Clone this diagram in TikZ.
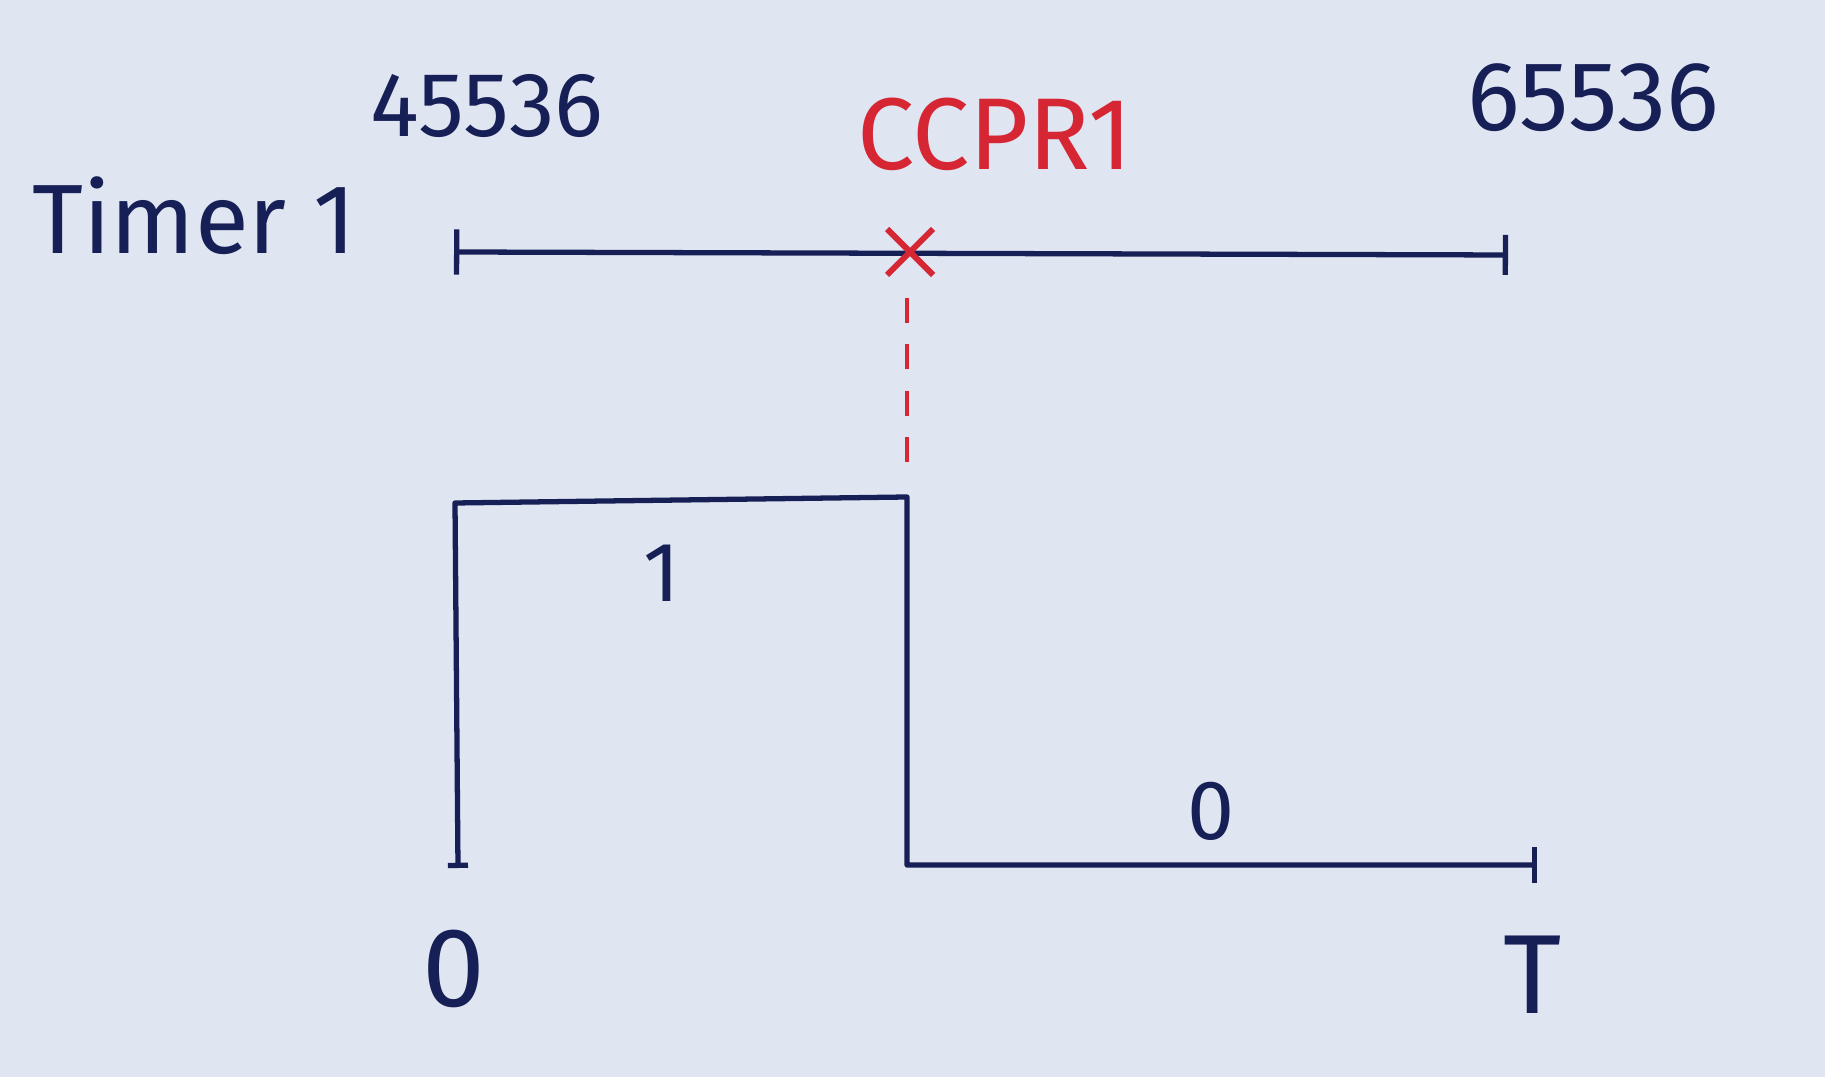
\documentclass[tikz,border=0pt]{standalone}
\usepackage{fontspec}
\setmainfont{Fira Sans}
\definecolor{ink}{RGB}{22, 32, 86}
\definecolor{redink}{RGB}{214, 38, 52}
\definecolor{paper}{RGB}{224, 229, 242}
\usetikzlibrary{arrows.meta, shapes.misc}

\begin{document}
\begin{tikzpicture}[x=0.01cm, y=-0.01cm,
  wire/.style={draw=ink, line width=1.5pt, line cap=round, line join=round},
  lbl/.style={text=ink, inner sep=0pt, font=\fontsize{#1}{#1}\selectfont},
  lbl/.default=28pt,
]
  % Paper
  \fill[paper] (0,0) rectangle (1825,1077);
  \useasboundingbox (0,0) rectangle (1825,1077);
  % Labels
  \node[lbl=28pt] (timer) at (194,216) {Timer 1};
  \node[lbl=26pt] (lo)    at (487,106) {45536};
  \node[lbl=29pt, text=redink] (ccpr) at (995,134) {CCPR1};
  \node[lbl]      (hi)    at (1593,98) {65536};
  \node[lbl=24pt] (one)   at (662,573) {1};
  \node[lbl=24pt] (zero)  at (1211,811) {0};
  \node[lbl=32pt] (start) at (454,969) {0};
  \node[lbl=32pt] (per)   at (1533,975) {T};
  % Timeline
  \coordinate (tl) at (454,252);
  \coordinate (tr) at (1508,255);
  \draw[wire, {Bar[width=4.5mm]}-{Bar[width=4mm]}] (tl) -- (tr);
  \node[cross out, draw=redink, line width=1.7pt, minimum size=4mm, inner sep=0pt] (mark) at (910,252) {};
  % Compare line
  \coordinate (d1) at (907,298);
  \coordinate (d2) at (907,462);
  \draw[redink, line width=1.2pt, dash pattern=on 7.1pt off 6.1pt] (d1) -- (d2);
  % Output signal
  \coordinate (s0) at (458,868);
  \coordinate (s1) at (455,503);
  \coordinate (s2) at (907,497);
  \coordinate (s3) at (907,865);
  \coordinate (s4) at (1537,865);
  \draw[wire, {Bar[width=2mm]}-{Bar[width=3.5mm]}] (s0) -- (s1) -- (s2) -- (s3) -- (s4);
\end{tikzpicture}
\end{document}
